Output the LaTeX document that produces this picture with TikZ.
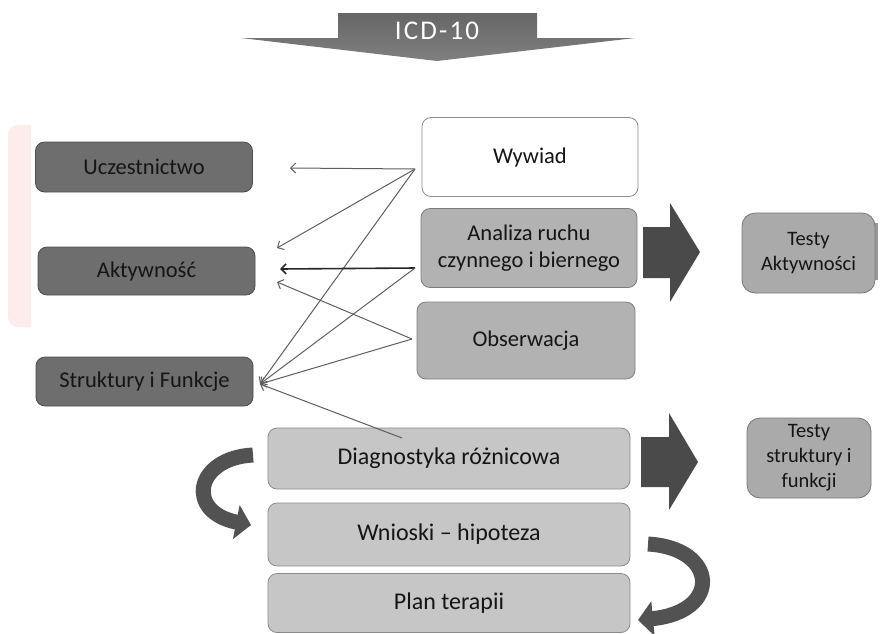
\documentclass[tikz,border=0pt]{standalone}
\usepackage{fontspec}
\setmainfont{Carlito}
\usetikzlibrary{arrows.meta}
\definecolor{txt}{HTML}{151515}
\definecolor{darkbox}{HTML}{6E6E6E}
\definecolor{midbox}{HTML}{B2B2B2}
\definecolor{lowbox}{HTML}{C6C6C6}
\definecolor{testbox}{HTML}{AAAAAA}
\definecolor{blockfill}{HTML}{4A4A4A}
\definecolor{linkgray}{HTML}{5E5E5E}
\definecolor{pinkbg}{HTML}{FCEDEB}
\begin{document}
\begin{tikzpicture}[x=1pt, y=-1pt,
  box/.style={draw=#1!70!black, fill=#1, rounded corners=9pt, text=txt, align=center, line width=0.8pt},
  sidebox/.style={box=darkbox, minimum width=217pt, minimum height=49pt, font=\fontsize{22.5}{27}\selectfont},
  midnode/.style={box=#1, minimum width=216pt, minimum height=79pt, font=\fontsize{22.5}{27}\selectfont},
  lownode/.style={box=lowbox, minimum width=362pt, minimum height=61pt, font=\fontsize{24}{28}\selectfont},
  testnode/.style={box=testbox, rounded corners=13pt, minimum height=80pt, font=\fontsize{20.5}{25}\selectfont},
  link/.style={draw=linkgray, line width=1pt, -{Straight Barb[length=5pt,width=10pt]}},
  boldlink/.style={link, draw=black!85, line width=1.6pt},
  curv/.style={draw=black!68, line width=15pt, -{Triangle[length=15pt,width=34pt]}}]
\useasboundingbox (0,0) rectangle (894,633);
% faint remains at the edges
\fill[pinkbg] (31,125) [rounded corners=10pt] -- (8,125) -- (8,327) [sharp corners] -- (31,327) -- cycle;
\fill[black!40] (873,223) rectangle (878,280);
% ICD-10 banner
\shade[top color=black!60, bottom color=black!50] (338,13) -- (537,13) -- (537,38) -- (635,38) -- (437,61) -- (241,38) -- (338,38) -- cycle;
\node (icd) at (437,31) [text=white, font=\fontsize{27}{30}\selectfont\addfontfeatures{LetterSpace=8}] {ICD-10};
% left column
\node (ucz) at (144,167) [sidebox, minimum height=50pt] {Uczestnictwo};
\node (akt) at (146.5,271) [sidebox, minimum height=48pt] {Aktywność};
\node (str) at (144.5,381.5) [sidebox] {Struktury i Funkcje};
% middle column
\node (wyw) at (530,157) [midnode=white, draw=black!45] {Wywiad};
\node (ana) at (529,248) [midnode=midbox] {Analiza ruchu\\czynnego i biernego};
\node (obs) at (526,340.5) [midnode=midbox, minimum width=218pt, minimum height=77pt] {Obserwacja};
\node (diag) at (449,458.5) [lownode] {Diagnostyka różnicowa};
\node (wn) at (449,534.5) [lownode, minimum height=63pt] {Wnioski – hipoteza};
\node (plan) at (449,603) [lownode, minimum height=59pt] {Plan terapii};
% right column
\node (ta) at (808.5,253) [testnode, minimum width=133pt] {Testy\\Aktywności};
\node (ts) at (809,458) [testnode, minimum width=124pt] {Testy\\struktury i\\funkcji};
% block arrows
\fill[blockfill] (643,227) -- (670,227) -- (670,203) -- (700,252) -- (670,302) -- (670,278) -- (643,278) -- cycle;
\fill[blockfill] (641,437) -- (669,437) -- (669,413) -- (698,462) -- (669,510) -- (669,487) -- (641,487) -- cycle;
% ends of the thin arrows
\coordinate (wyw-o) at (415,169); \coordinate (ana-o) at (415,268);
\coordinate (obs-o) at (412,339); \coordinate (diag-o) at (402,438);
\coordinate (ucz-i) at (290,168); \coordinate (akt-i1) at (277,248);
\coordinate (akt-i2) at (280,269); \coordinate (akt-i3) at (277,282);
\coordinate (str-i) at (260,384);
\draw[link] (wyw-o) -- (ucz-i);
\draw[link] (wyw-o) -- (akt-i1);
\draw[link] (wyw-o) -- (str-i);
\draw[boldlink] (ana-o) -- (akt-i2);
\draw[link] (ana-o) -- (str-i);
\draw[link] (obs-o) -- (akt-i3);
\draw[link] (obs-o) -- (str-i);
\draw[link] (diag-o) -- (str-i);
% curved arrows
\draw[curv] (253,455) .. controls (195,458) and (185,512) .. (251,525);
\draw[curv] (648,544) .. controls (718,548) and (722,612) .. (638,620);
\end{tikzpicture}
\end{document}
